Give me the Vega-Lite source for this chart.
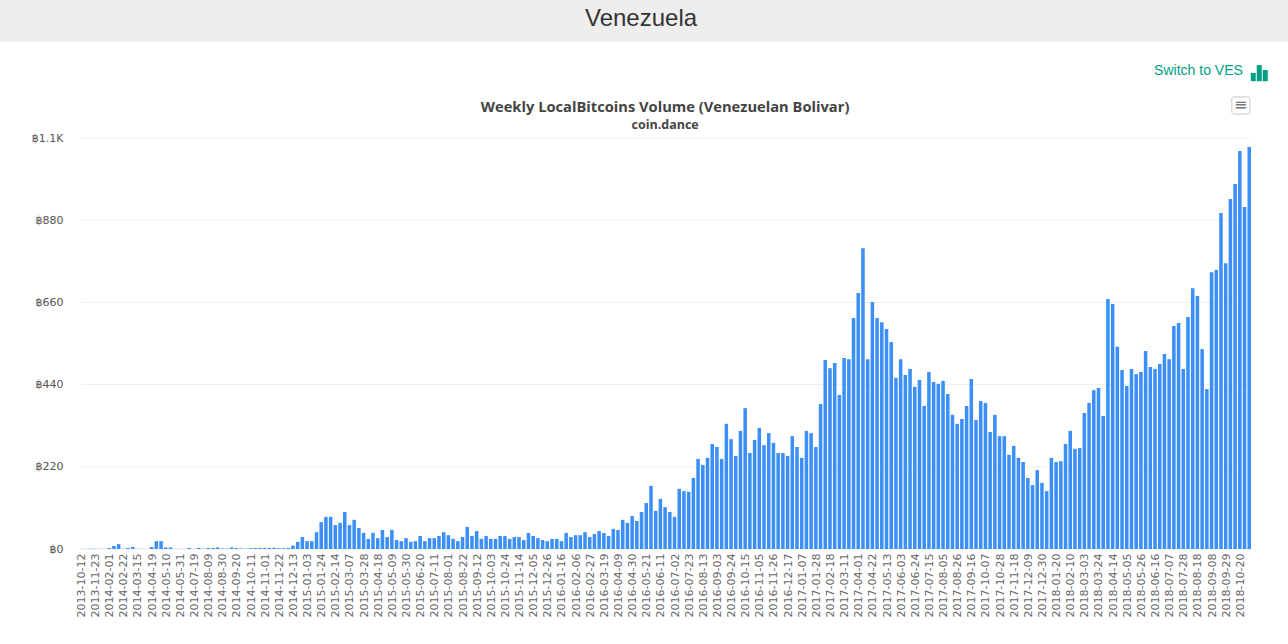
{"$schema":"https://vega.github.io/schema/vega-lite/v6.json","padding":0,"background":"#ffffff","spacing":22,"datasets":{"weekly":[{"week":"2013-10-12","vol":0.3},{"week":"2013-10-26","vol":0.3},{"week":"2013-11-09","vol":0.8},{"week":"2013-11-23","vol":0.8},{"week":"2013-12-14","vol":0.5},{"week":"2014-01-11","vol":0.3},{"week":"2014-02-01","vol":2.7},{"week":"2014-02-08","vol":8},{"week":"2014-02-15","vol":13},{"week":"2014-02-22","vol":0.5},{"week":"2014-03-01","vol":2.7},{"week":"2014-03-08","vol":5.4},{"week":"2014-03-15","vol":0.5},{"week":"2014-03-29","vol":0.3},{"week":"2014-04-05","vol":0.3},{"week":"2014-04-19","vol":5.4},{"week":"2014-04-26","vol":21},{"week":"2014-05-03","vol":21},{"week":"2014-05-10","vol":4},{"week":"2014-05-17","vol":4},{"week":"2014-05-24","vol":0.3},{"week":"2014-05-31","vol":0.3},{"week":"2014-06-14","vol":0.5},{"week":"2014-06-28","vol":2.7},{"week":"2014-07-19","vol":0.5},{"week":"2014-07-26","vol":2.7},{"week":"2014-08-02","vol":0.8},{"week":"2014-08-09","vol":2.7},{"week":"2014-08-16","vol":2.7},{"week":"2014-08-23","vol":4},{"week":"2014-08-30","vol":1.3},{"week":"2014-09-06","vol":1.3},{"week":"2014-09-13","vol":4},{"week":"2014-09-20","vol":2.7},{"week":"2014-09-27","vol":1.3},{"week":"2014-10-04","vol":0.8},{"week":"2014-10-11","vol":2.1},{"week":"2014-10-18","vol":2.7},{"week":"2014-10-25","vol":2.7},{"week":"2014-11-01","vol":3.2},{"week":"2014-11-08","vol":2.7},{"week":"2014-11-15","vol":3.2},{"week":"2014-11-22","vol":2.1},{"week":"2014-11-29","vol":2.1},{"week":"2014-12-06","vol":2.7},{"week":"2014-12-13","vol":9},{"week":"2014-12-20","vol":19},{"week":"2014-12-27","vol":32},{"week":"2015-01-03","vol":21},{"week":"2015-01-10","vol":21},{"week":"2015-01-17","vol":45},{"week":"2015-01-24","vol":72},{"week":"2015-01-31","vol":86},{"week":"2015-02-07","vol":86},{"week":"2015-02-14","vol":64},{"week":"2015-02-21","vol":70},{"week":"2015-02-28","vol":99},{"week":"2015-03-07","vol":64},{"week":"2015-03-14","vol":78},{"week":"2015-03-21","vol":56},{"week":"2015-03-28","vol":43},{"week":"2015-04-04","vol":27},{"week":"2015-04-11","vol":43},{"week":"2015-04-18","vol":29},{"week":"2015-04-25","vol":51},{"week":"2015-05-02","vol":32},{"week":"2015-05-09","vol":51},{"week":"2015-05-16","vol":24},{"week":"2015-05-23","vol":21},{"week":"2015-05-30","vol":29},{"week":"2015-06-06","vol":19},{"week":"2015-06-13","vol":21},{"week":"2015-06-20","vol":35},{"week":"2015-06-27","vol":21},{"week":"2015-07-04","vol":29},{"week":"2015-07-11","vol":29},{"week":"2015-07-18","vol":35},{"week":"2015-07-25","vol":45},{"week":"2015-08-01","vol":37},{"week":"2015-08-08","vol":27},{"week":"2015-08-15","vol":21},{"week":"2015-08-22","vol":32},{"week":"2015-08-29","vol":59},{"week":"2015-09-05","vol":35},{"week":"2015-09-12","vol":48},{"week":"2015-09-19","vol":27},{"week":"2015-09-26","vol":35},{"week":"2015-10-03","vol":27},{"week":"2015-10-10","vol":27},{"week":"2015-10-17","vol":35},{"week":"2015-10-24","vol":35},{"week":"2015-10-31","vol":27},{"week":"2015-11-07","vol":32},{"week":"2015-11-14","vol":32},{"week":"2015-11-21","vol":24},{"week":"2015-11-28","vol":43},{"week":"2015-12-05","vol":35},{"week":"2015-12-12","vol":29},{"week":"2015-12-19","vol":24},{"week":"2015-12-26","vol":21},{"week":"2016-01-02","vol":27},{"week":"2016-01-09","vol":27},{"week":"2016-01-16","vol":21},{"week":"2016-01-23","vol":43},{"week":"2016-01-30","vol":32},{"week":"2016-02-06","vol":37},{"week":"2016-02-13","vol":37},{"week":"2016-02-20","vol":45},{"week":"2016-02-27","vol":32},{"week":"2016-03-05","vol":40},{"week":"2016-03-12","vol":48},{"week":"2016-03-19","vol":43},{"week":"2016-03-26","vol":35},{"week":"2016-04-02","vol":54},{"week":"2016-04-09","vol":51},{"week":"2016-04-16","vol":78},{"week":"2016-04-23","vol":70},{"week":"2016-04-30","vol":88},{"week":"2016-05-07","vol":75},{"week":"2016-05-14","vol":99},{"week":"2016-05-21","vol":123},{"week":"2016-05-28","vol":169},{"week":"2016-06-04","vol":102},{"week":"2016-06-11","vol":134},{"week":"2016-06-18","vol":112},{"week":"2016-06-25","vol":99},{"week":"2016-07-02","vol":86},{"week":"2016-07-09","vol":161},{"week":"2016-07-16","vol":155},{"week":"2016-07-23","vol":153},{"week":"2016-07-30","vol":190},{"week":"2016-08-06","vol":241},{"week":"2016-08-13","vol":225},{"week":"2016-08-20","vol":244},{"week":"2016-08-27","vol":281},{"week":"2016-09-03","vol":273},{"week":"2016-09-10","vol":241},{"week":"2016-09-17","vol":335},{"week":"2016-09-24","vol":294},{"week":"2016-10-01","vol":249},{"week":"2016-10-08","vol":316},{"week":"2016-10-15","vol":377},{"week":"2016-10-22","vol":257},{"week":"2016-10-29","vol":292},{"week":"2016-11-05","vol":324},{"week":"2016-11-12","vol":278},{"week":"2016-11-19","vol":310},{"week":"2016-11-26","vol":284},{"week":"2016-12-03","vol":257},{"week":"2016-12-10","vol":257},{"week":"2016-12-17","vol":249},{"week":"2016-12-24","vol":302},{"week":"2016-12-31","vol":273},{"week":"2017-01-07","vol":244},{"week":"2017-01-14","vol":316},{"week":"2017-01-21","vol":310},{"week":"2017-01-28","vol":273},{"week":"2017-02-04","vol":388},{"week":"2017-02-11","vol":506},{"week":"2017-02-18","vol":484},{"week":"2017-02-25","vol":498},{"week":"2017-03-04","vol":412},{"week":"2017-03-11","vol":511},{"week":"2017-03-18","vol":508},{"week":"2017-03-25","vol":618},{"week":"2017-04-01","vol":685},{"week":"2017-04-08","vol":805},{"week":"2017-04-15","vol":508},{"week":"2017-04-22","vol":661},{"week":"2017-04-29","vol":618},{"week":"2017-05-06","vol":607},{"week":"2017-05-13","vol":589},{"week":"2017-05-20","vol":554},{"week":"2017-05-27","vol":458},{"week":"2017-06-03","vol":508},{"week":"2017-06-10","vol":466},{"week":"2017-06-17","vol":482},{"week":"2017-06-24","vol":434},{"week":"2017-07-01","vol":452},{"week":"2017-07-08","vol":383},{"week":"2017-07-15","vol":474},{"week":"2017-07-22","vol":447},{"week":"2017-07-29","vol":442},{"week":"2017-08-05","vol":450},{"week":"2017-08-12","vol":415},{"week":"2017-08-19","vol":359},{"week":"2017-08-26","vol":335},{"week":"2017-09-02","vol":348},{"week":"2017-09-09","vol":383},{"week":"2017-09-16","vol":455},{"week":"2017-09-23","vol":345},{"week":"2017-09-30","vol":396},{"week":"2017-10-07","vol":391},{"week":"2017-10-14","vol":313},{"week":"2017-10-21","vol":359},{"week":"2017-10-28","vol":302},{"week":"2017-11-04","vol":302},{"week":"2017-11-11","vol":252},{"week":"2017-11-18","vol":276},{"week":"2017-11-25","vol":244},{"week":"2017-12-02","vol":233},{"week":"2017-12-09","vol":190},{"week":"2017-12-16","vol":171},{"week":"2017-12-23","vol":211},{"week":"2017-12-30","vol":177},{"week":"2018-01-06","vol":155},{"week":"2018-01-13","vol":244},{"week":"2018-01-20","vol":233},{"week":"2018-01-27","vol":235},{"week":"2018-02-03","vol":281},{"week":"2018-02-10","vol":316},{"week":"2018-02-17","vol":268},{"week":"2018-02-24","vol":270},{"week":"2018-03-03","vol":364},{"week":"2018-03-10","vol":391},{"week":"2018-03-17","vol":425},{"week":"2018-03-24","vol":431},{"week":"2018-03-31","vol":356},{"week":"2018-04-07","vol":669},{"week":"2018-04-14","vol":656},{"week":"2018-04-21","vol":541},{"week":"2018-04-28","vol":479},{"week":"2018-05-05","vol":436},{"week":"2018-05-12","vol":482},{"week":"2018-05-19","vol":468},{"week":"2018-05-26","vol":474},{"week":"2018-06-02","vol":530},{"week":"2018-06-09","vol":487},{"week":"2018-06-16","vol":482},{"week":"2018-06-23","vol":495},{"week":"2018-06-30","vol":522},{"week":"2018-07-07","vol":508},{"week":"2018-07-14","vol":597},{"week":"2018-07-21","vol":605},{"week":"2018-07-28","vol":482},{"week":"2018-08-04","vol":621},{"week":"2018-08-11","vol":698},{"week":"2018-08-18","vol":677},{"week":"2018-08-25","vol":535},{"week":"2018-09-01","vol":428},{"week":"2018-09-08","vol":741},{"week":"2018-09-15","vol":747},{"week":"2018-09-22","vol":899},{"week":"2018-09-29","vol":765},{"week":"2018-10-06","vol":937},{"week":"2018-10-13","vol":977},{"week":"2018-10-20","vol":1065},{"week":"2018-10-27","vol":915},{"week":"2018-11-03","vol":1076}]},"vconcat":[{"width":1288,"height":42,"view":{"fill":"#eeeeee","stroke":null},"data":{"values":[{"name":"Venezuela"}]},"mark":{"type":"text","font":"Liberation Sans","fontSize":24,"color":"#333333","dx":-3,"dy":-2},"encoding":{"text":{"field":"name"}}},{"width":1288,"height":411,"view":{"stroke":null},"layer":[{"data":{"name":"weekly"},"mark":{"type":"bar","opacity":0},"encoding":{"x":{"field":"week","type":"nominal","sort":null,"scale":{"paddingInner":0.25,"paddingOuter":0.125,"range":[78.6,1251.6]},"axis":{"title":null,"labelAngle":-90,"labelAlign":"right","labelBaseline":"middle","labelPadding":4,"labelOffset":1,"labelOverlap":false,"ticks":false,"domain":false,"grid":false,"labelFont":"DejaVu Sans","labelFontSize":11,"labelColor":"#666666","values":["2013-10-12","2013-11-23","2014-02-01","2014-02-22","2014-03-15","2014-04-19","2014-05-10","2014-05-31","2014-07-19","2014-08-09","2014-08-30","2014-09-20","2014-10-11","2014-11-01","2014-11-22","2014-12-13","2015-01-03","2015-01-24","2015-02-14","2015-03-07","2015-03-28","2015-04-18","2015-05-09","2015-05-30","2015-06-20","2015-07-11","2015-08-01","2015-08-22","2015-09-12","2015-10-03","2015-10-24","2015-11-14","2015-12-05","2015-12-26","2016-01-16","2016-02-06","2016-02-27","2016-03-19","2016-04-09","2016-04-30","2016-05-21","2016-06-11","2016-07-02","2016-07-23","2016-08-13","2016-09-03","2016-09-24","2016-10-15","2016-11-05","2016-11-26","2016-12-17","2017-01-07","2017-01-28","2017-02-18","2017-03-11","2017-04-01","2017-04-22","2017-05-13","2017-06-03","2017-06-24","2017-07-15","2017-08-05","2017-08-26","2017-09-16","2017-10-07","2017-10-28","2017-11-18","2017-12-09","2017-12-30","2018-01-20","2018-02-10","2018-03-03","2018-03-24","2018-04-14","2018-05-05","2018-05-26","2018-06-16","2018-07-07","2018-07-28","2018-08-18","2018-09-08","2018-09-29","2018-10-20"]}},"y":{"field":"vol","type":"quantitative","scale":{"domain":[0,1100],"nice":false},"axis":{"title":null,"values":[0,220,440,660,880,1100],"labelExpr":"'฿' + (datum.value >= 1000 ? '1.1K' : datum.value)","labelFont":"DejaVu Sans","labelFontSize":11,"labelColor":"#555555","labelPadding":0,"offset":-63,"ticks":false,"domain":false,"grid":false}}}},{"data":{"values":[{"line":0},{"line":220},{"line":440},{"line":660},{"line":880},{"line":1100}]},"mark":{"type":"rule","color":"#eeeeee","strokeWidth":1},"encoding":{"x":{"datum":"2013-10-12","type":"nominal","title":null},"x2":{"datum":"2018-11-03"},"y":{"field":"line","type":"quantitative","title":null}}},{"data":{"name":"weekly"},"mark":{"type":"bar","color":"#3b8ff6"},"encoding":{"x":{"field":"week","type":"nominal","sort":null,"title":null},"y":{"field":"vol","type":"quantitative","title":null}}},{"data":{"values":[{"label":"Weekly LocalBitcoins Volume (Venezuelan Bolivar)"}]},"mark":{"type":"text","font":"Open Sans","fontSize":14.7,"fontWeight":"bold","color":"#444444","baseline":"middle"},"encoding":{"x":{"datum":"2016-06-18","type":"nominal","title":null},"y":{"datum":1180,"title":null},"text":{"field":"label"}}},{"data":{"values":[{"label":"coin.dance"}]},"mark":{"type":"text","font":"Open Sans","fontSize":12.5,"fontWeight":"bold","color":"#444444","baseline":"middle"},"encoding":{"x":{"datum":"2016-06-18","type":"nominal","title":null},"y":{"datum":1135,"title":null},"text":{"field":"label"}}},{"data":{"values":[{"label":"Switch to VES"}]},"mark":{"type":"text","font":"Liberation Sans","fontSize":14,"color":"#00a085","align":"right","baseline":"middle","dx":3},"encoding":{"x":{"datum":"2018-10-20","type":"nominal","title":null},"y":{"datum":1279,"title":null},"text":{"field":"label"}}},{"data":{"values":[{"part":"low"}]},"mark":{"type":"bar","width":5,"xOffset":4,"color":"#00a085"},"encoding":{"x":{"datum":"2018-11-03","type":"nominal","title":null},"y":{"datum":1252,"title":null},"y2":{"datum":1274}}},{"data":{"values":[{"part":"tall"}]},"mark":{"type":"bar","width":5,"xOffset":10,"color":"#00a085"},"encoding":{"x":{"datum":"2018-11-03","type":"nominal","title":null},"y":{"datum":1252,"title":null},"y2":{"datum":1295}}},{"data":{"values":[{"part":"mid"}]},"mark":{"type":"bar","width":5,"xOffset":16,"color":"#00a085"},"encoding":{"x":{"datum":"2018-11-03","type":"nominal","title":null},"y":{"datum":1252,"title":null},"y2":{"datum":1282}}},{"data":{"values":[{"part":"menu"}]},"mark":{"type":"bar","width":18,"xOffset":1,"fill":"#ffffff","stroke":"#c8c8c8","cornerRadius":2},"encoding":{"x":{"datum":"2018-10-20","type":"nominal","title":null},"y":{"datum":1164,"title":null},"y2":{"datum":1210}}},{"data":{"values":[{"label":"≡"}]},"mark":{"type":"text","fontSize":16,"color":"#777777","baseline":"middle","font":"DejaVu Sans","dx":1},"encoding":{"x":{"datum":"2018-10-20","type":"nominal","title":null},"y":{"datum":1187,"title":null},"text":{"field":"label"}}}]}]}
